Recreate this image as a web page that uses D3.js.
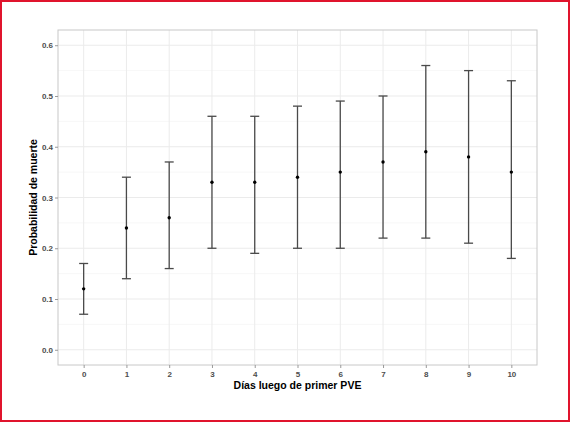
<!DOCTYPE html>
<meta charset="utf-8">
<script src="https://d3js.org/d3.v7.min.js"></script>
<style>
  body { margin: 0; background: #fff; }
  text { font-family: "Liberation Sans", Arial, sans-serif; }
</style>
<div id="chart"></div>
<script>
  // dias luego de primer PVE, estimacion y limites del intervalo
  var dias = [0, 1, 2, 3, 4, 5, 6, 7, 8, 9, 10];
  var prob = [0.12, 0.24, 0.26, 0.33, 0.33, 0.34, 0.35, 0.37, 0.39, 0.38, 0.35];
  var lower = [0.07, 0.14, 0.16, 0.20, 0.19, 0.20, 0.20, 0.22, 0.22, 0.21, 0.18];
  var upper = [0.17, 0.34, 0.37, 0.46, 0.46, 0.48, 0.49, 0.50, 0.56, 0.55, 0.53];
  var yTicks = [0, 0.1, 0.2, 0.3, 0.4, 0.5, 0.6];
  var yMinor = [0.05, 0.15, 0.25, 0.35, 0.45, 0.55];

  var W = 572, H = 422;
  var margin = {top: 30, right: 35, bottom: 57, left: 58},
      width = 537 - margin.left,
      height = 365 - margin.top;

  var root = d3.select("#chart").append("svg")
      .attr("width", W)
      .attr("height", H);

  // red frame
  root.append("rect")
    .attr("x", 1).attr("y", 1)
    .attr("width", 568).attr("height", 420)
    .attr("fill", "none")
    .attr("stroke", "#e0142d")
    .attr("stroke-width", 2);

  var svg = root.append("g")
      .attr("transform", "translate(" + margin.left + "," + margin.top + ")");

  var x = d3.scaleLinear().domain([-0.6, 10.6]).range([0, width]);
  var y = d3.scaleLinear().domain([-0.03, 0.63]).range([height, 0]);

  // grid
  svg.selectAll("line.minor")
    .data(yMinor)
    .enter().append("line")
    .attr("x1", 0).attr("x2", width)
    .attr("y1", d => y(d)).attr("y2", d => y(d))
    .attr("stroke", "#f2f2f2").attr("stroke-width", 0.6);

  svg.selectAll("line.hmajor")
    .data(yTicks)
    .enter().append("line")
    .attr("x1", 0).attr("x2", width)
    .attr("y1", d => y(d)).attr("y2", d => y(d))
    .attr("stroke", "#ebebeb").attr("stroke-width", 1);

  svg.selectAll("line.vmajor")
    .data(dias)
    .enter().append("line")
    .attr("x1", d => x(d)).attr("x2", d => x(d))
    .attr("y1", 0).attr("y2", height)
    .attr("stroke", "#ebebeb").attr("stroke-width", 1);

  // panel border
  svg.append("rect")
    .attr("width", width).attr("height", height)
    .attr("fill", "none")
    .attr("stroke", "#c8c8c8")
    .attr("stroke-width", 1);

  // axes
  var yAxis = svg.append("g")
    .call(d3.axisLeft(y).tickValues(yTicks).tickFormat(d3.format(".1f")).tickSize(3).tickPadding(2));
  var xAxis = svg.append("g")
    .attr("transform", "translate(0," + height + ")")
    .call(d3.axisBottom(x).tickValues(dias).tickFormat(d3.format("d")).tickSize(3).tickPadding(3));

  [xAxis, yAxis].forEach(function(a) {
    a.select(".domain").remove();
    a.selectAll(".tick line").attr("stroke", "#999");
    a.selectAll(".tick text")
      .attr("fill", "#4d4d4d")
      .style("font-size", "8px")
      .style("font-weight", "bold");
  });

  // error bars
  var bars = svg.selectAll("g.err")
    .data(dias)
    .enter().append("g")
    .attr("class", "err");

  bars.append("line")
    .attr("x1", d => x(d)).attr("x2", d => x(d))
    .attr("y1", (d, i) => y(lower[i])).attr("y2", (d, i) => y(upper[i]))
    .attr("stroke", "#4a4a4a").attr("stroke-width", 1.3);
  bars.append("line")
    .attr("x1", d => x(d) - 4.5).attr("x2", d => x(d) + 4.5)
    .attr("y1", (d, i) => y(upper[i])).attr("y2", (d, i) => y(upper[i]))
    .attr("stroke", "#4a4a4a").attr("stroke-width", 1.3);
  bars.append("line")
    .attr("x1", d => x(d) - 4.5).attr("x2", d => x(d) + 4.5)
    .attr("y1", (d, i) => y(lower[i])).attr("y2", (d, i) => y(lower[i]))
    .attr("stroke", "#4a4a4a").attr("stroke-width", 1.3);

  bars.append("circle")
    .attr("cx", d => x(d))
    .attr("cy", (d, i) => y(prob[i]))
    .attr("r", 1.7)
    .attr("fill", "#000");

  // axis titles
  svg.append("text")
    .attr("x", width / 2)
    .attr("y", height + 24)
    .attr("text-anchor", "middle")
    .style("font-size", "10.5px")
    .style("font-weight", "bold")
    .text("Días luego de primer PVE");

  svg.append("text")
    .attr("transform", "rotate(-90)")
    .attr("x", -height / 2)
    .attr("y", -21)
    .attr("text-anchor", "middle")
    .style("font-size", "10.5px")
    .style("font-weight", "bold")
    .text("Probabilidad de muerte");
</script>
